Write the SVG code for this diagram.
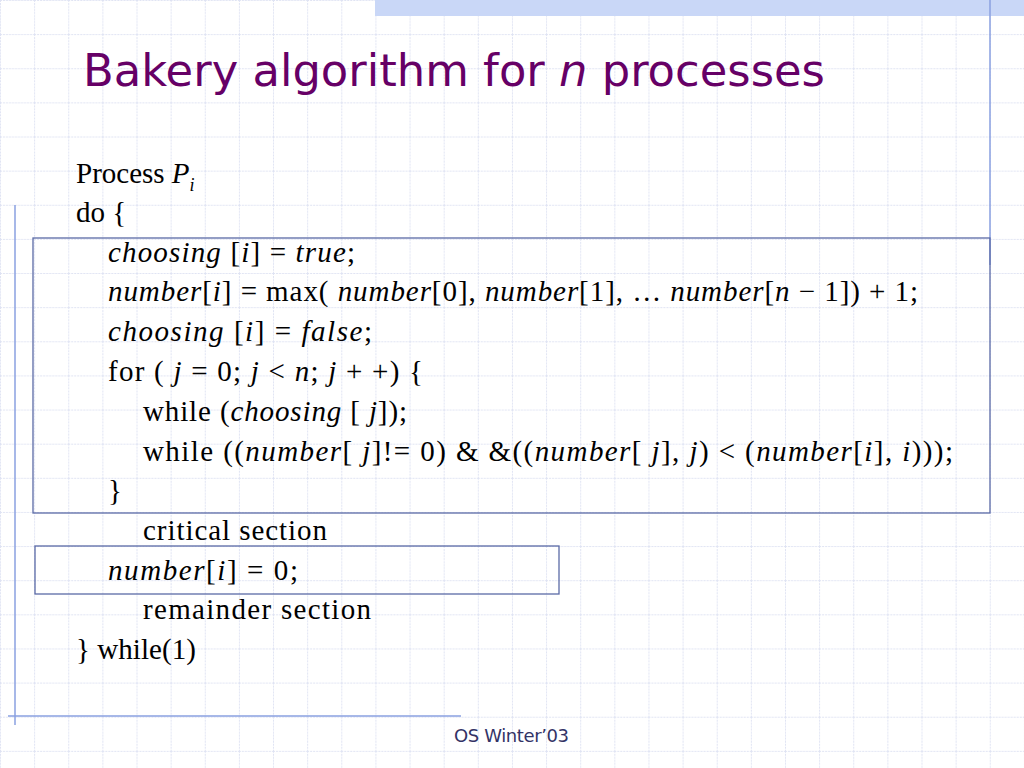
<svg xmlns="http://www.w3.org/2000/svg" width="1024" height="768" viewBox="0 0 1024 768">
<defs>
<pattern id="grid" width="34.13" height="34.13" patternUnits="userSpaceOnUse">
<path d="M0 0.5H34.13M0.5 0V34.13" fill="none" stroke="#dfe3f3" stroke-width="1" stroke-dasharray="2 1"/>
</pattern>
</defs>
<style>
.t{font-family:"Liberation Serif",serif;font-size:29px;fill:#000}
.i{font-style:italic}
.box{fill:none;stroke:#5b6aa6;stroke-width:1.3}
</style>
<rect width="1024" height="768" fill="#fff"/>
<rect width="1024" height="768" fill="url(#grid)"/>
<rect x="375" y="0" width="649" height="16" fill="#c9d7f7"/>
<line x1="990" y1="0" x2="990" y2="265" stroke="#8aa0e0" stroke-width="1.5"/>
<line x1="15" y1="205" x2="15" y2="725" stroke="#8aa0e0" stroke-width="1.5"/>
<line x1="8" y1="716" x2="461" y2="716" stroke="#8aa0e0" stroke-width="1.5"/>
<text x="83" y="86" font-family="Tahoma,'DejaVu Sans',sans-serif" font-size="45" fill="#660066" textLength="742" lengthAdjust="spacingAndGlyphs">Bakery algorithm for <tspan font-style="italic">n</tspan> processes</text>
<g id="boxes">
<rect class="box" x="33" y="238" width="957" height="275"/>
<rect class="box" x="35" y="546" width="524" height="48"/>
</g>
<g id="code">
<text class="t" x="76" y="183">Process <tspan class="i">P</tspan><tspan class="i" font-size="18" dy="8">i</tspan></text>
<text class="t" x="76" y="222">do {</text>
<text class="t" x="108" y="262" textLength="247"><tspan class="i">choosing</tspan> [<tspan class="i">i</tspan>] = <tspan class="i">true</tspan>;</text>
<text class="t" x="108" y="301" textLength="810"><tspan class="i">number</tspan>[<tspan class="i">i</tspan>] = max( <tspan class="i">number</tspan>[0], <tspan class="i">number</tspan>[1], … <tspan class="i">number</tspan>[<tspan class="i">n</tspan> − 1]) + 1;</text>
<text class="t" x="108" y="341" textLength="264"><tspan class="i">choosing</tspan> [<tspan class="i">i</tspan>] = <tspan class="i">false</tspan>;</text>
<text class="t" x="108" y="381" textLength="315">for ( <tspan class="i">j</tspan> = 0; <tspan class="i">j</tspan> &lt; <tspan class="i">n</tspan>; <tspan class="i">j</tspan> + +) {</text>
<text class="t" x="143" y="421" textLength="264">while (<tspan class="i">choosing</tspan> [ <tspan class="i">j</tspan>]);</text>
<text class="t" x="143" y="461" textLength="810">while ((<tspan class="i">number</tspan>[ <tspan class="i">j</tspan>]!= 0) &amp; &amp;((<tspan class="i">number</tspan>[ <tspan class="i">j</tspan>], <tspan class="i">j</tspan>) &lt; (<tspan class="i">number</tspan>[<tspan class="i">i</tspan>], <tspan class="i">i</tspan>)));</text>
<text class="t" x="108" y="500">}</text>
<text class="t" x="143" y="540" textLength="184">critical  section</text>
<text class="t" x="108" y="580" textLength="190"><tspan class="i">number</tspan>[<tspan class="i">i</tspan>] = 0;</text>
<text class="t" x="143" y="619" textLength="228">remainder  section</text>
<text class="t" x="76" y="659" textLength="120">} while(1)</text>
</g>
<text x="454" y="742" font-family="Tahoma,'DejaVu Sans',sans-serif" font-size="18" fill="#333366" textLength="115">OS Winter’03</text>
</svg>
